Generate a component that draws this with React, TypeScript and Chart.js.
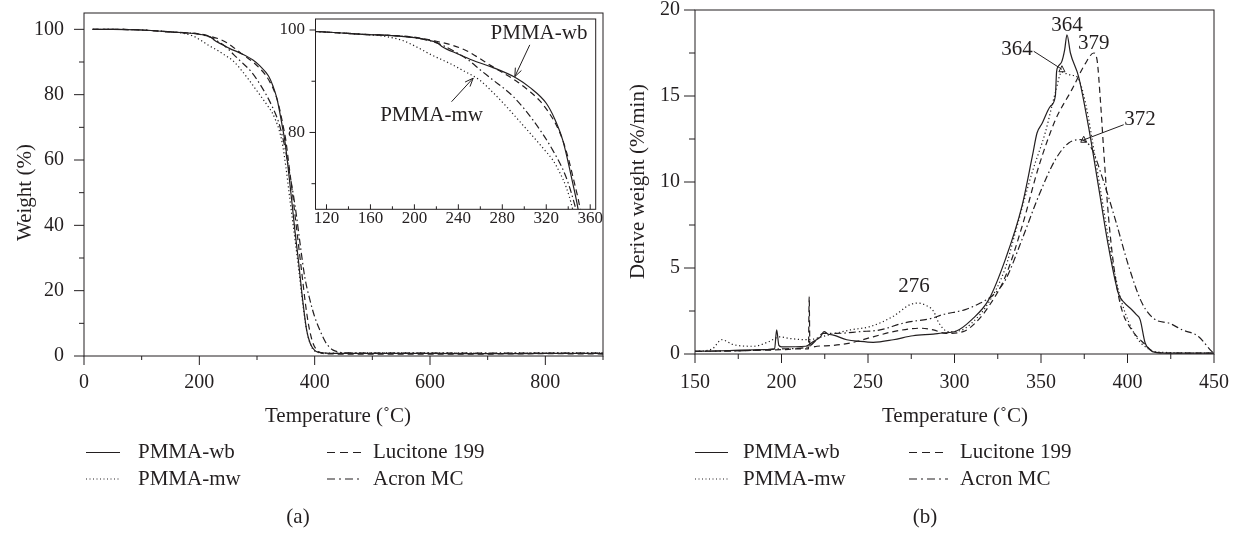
import React, { useEffect, useRef } from "react";
import { Chart, registerables } from "chart.js";

Chart.register(...registerables);

const FONT = '"Liberation Serif", "Times New Roman", Times, serif';
const INK = "#231f20";
const TEXT_SIZE = 21;

// ---------- TGA: weight (%) vs temperature (°C) ----------
const WB_TGA_T = [15, 50, 100, 150, 200, 215, 221, 225, 240, 253, 270, 293, 305, 320, 328, 335, 344, 349, 355, 360, 366, 372, 378, 386, 392, 400, 408, 420, 450, 500, 600, 700, 800, 900];
const WB_TGA_W = [100, 100, 99.8, 99.2, 98.5, 97.9, 97.5, 96.8, 95.3, 94.1, 92.8, 90.6, 88.8, 85.7, 82.5, 78.5, 70.2, 65, 56, 48, 38, 29, 19, 8, 4, 1.7, 1.1, 0.9, 0.8, 0.8, 0.8, 0.7, 0.8, 0.8];

const MW_TGA_T = [15, 50, 100, 150, 172, 190, 202, 215, 232, 245, 259.5, 272, 284, 296, 308, 318, 326, 332, 338, 344, 350, 357, 365, 372, 378, 386, 394, 402, 410, 420, 450, 500, 600, 700, 800, 900];
const MW_TGA_W = [100, 100, 99.8, 99.2, 98.8, 97.9, 96.7, 95.2, 93.5, 92.0, 90.2, 87.7, 85.0, 82.1, 79.2, 76.7, 74.6, 72.3, 69.4, 65, 58, 48, 37, 27, 18, 8, 3, 1.3, 1.0, 0.9, 0.9, 1.0, 1.0, 0.9, 1.0, 1.0];

const LUC_TGA_T = [15, 50, 100, 150, 200, 220, 235, 247, 256, 270, 293, 305, 314, 322, 329, 335, 340, 346, 350, 355, 360, 366, 372, 378, 384, 390, 396, 402, 410, 420, 450, 500, 600, 700, 800, 900];
const LUC_TGA_W = [100, 100, 99.8, 99.2, 98.6, 97.8, 97.0, 96.0, 94.9, 93.0, 90.0, 88.0, 86.2, 84.0, 81.5, 78.5, 75.0, 69.8, 66.0, 59, 52, 43, 34, 25, 16, 9, 4.5, 2.2, 1.0, 0.7, 0.6, 0.6, 0.6, 0.6, 0.7, 0.6];

const ACR_TGA_T = [15, 50, 100, 150, 200, 220, 240, 250, 260, 270, 290, 308, 326, 338, 347, 355, 366, 375, 383, 392, 400, 409, 418, 425, 432, 440, 450, 500, 600, 700, 800, 900];
const ACR_TGA_W = [100, 100, 99.8, 99.2, 98.5, 97.5, 95.4, 94.0, 92.2, 90.5, 87.0, 82.4, 76.5, 71.3, 65, 57.5, 46, 34, 24, 17, 12, 7.9, 4.5, 2.8, 1.8, 1.3, 1.0, 0.9, 0.9, 0.9, 0.9, 0.9];

// ---------- DTG: derivative weight (%/min) vs temperature (°C) ----------
const WB_DTG_T = [150, 170, 190, 196, 197.2, 198.5, 200, 214, 218, 220.3, 222.5, 224.6, 227, 230, 237.7, 245.4, 253, 264.6, 276, 287.8, 292.8, 300.5, 310, 319.8, 329.4, 339, 345, 347.7, 350.6, 355.4, 358.3, 359, 359.8, 362, 363.7, 365, 367, 371.8, 377.5, 383.3, 389, 394.8, 398, 402.5, 405, 407.3, 410.2, 413, 416, 430, 450];
const WB_DTG_D = [0.15, 0.2, 0.25, 0.3, 1.4, 0.5, 0.42, 0.45, 0.7, 0.83, 1.0, 1.3, 1.15, 1.1, 0.83, 0.73, 0.68, 0.83, 1.06, 1.16, 1.22, 1.31, 2.0, 3.16, 5.5, 8.6, 11.5, 12.85, 13.4, 14.4, 15, 16.4, 16.7, 17, 17.7, 18.56, 17.5, 16.1, 13.2, 9.7, 6.25, 3.5, 3.0, 2.57, 2.3, 2.0, 0.64, 0.25, 0.1, 0.05, 0.05];

const MW_DTG_T = [150, 160, 165.4, 172, 183.7, 193, 199, 205, 215.3, 226.9, 239.8, 251.4, 264.6, 274.3, 279, 283, 287.8, 291, 296.6, 303, 310, 319.8, 329.4, 335, 344.7, 352.4, 358.3, 362, 364.6, 368, 371, 375.7, 381.5, 387.2, 392, 396.7, 404.4, 412, 419.8, 450];
const MW_DTG_D = [0.15, 0.3, 0.83, 0.55, 0.45, 0.73, 1.0, 0.9, 0.83, 1.1, 1.4, 1.6, 2.19, 2.87, 2.96, 2.85, 2.5, 1.8, 1.3, 1.35, 1.8, 3.0, 5.0, 7.0, 10.5, 12.85, 15.2, 16.4, 16.3, 16.2, 16.1, 14.6, 11.3, 7.8, 5.0, 3.0, 1.1, 0.3, 0.1, 0.05];

const LUC_DTG_T = [150, 180, 200, 210, 215.6, 216, 216.4, 217.5, 220.5, 230, 239.8, 253, 264.6, 280, 287.8, 295, 305, 312, 319.8, 329.4, 339, 348.7, 358.3, 368, 375.7, 380.5, 382.4, 384.3, 386.2, 389, 392.9, 396.7, 402.5, 409.3, 416, 430, 450];
const LUC_DTG_D = [0.15, 0.2, 0.25, 0.3, 0.3, 3.35, 0.5, 0.4, 0.45, 0.5, 0.64, 1.0, 1.3, 1.5, 1.4, 1.2, 1.3, 1.8, 2.77, 4.5, 7.4, 10.9, 13.6, 15.4, 16.9, 17.5, 17.1, 14.8, 11.9, 8.0, 4.5, 2.58, 1.4, 0.64, 0.1, 0.05, 0.05];

const ACR_DTG_T = [150, 180, 200, 215, 220, 224, 231.7, 245.4, 257, 270.5, 287.8, 292.8, 306.2, 314.9, 322, 329.4, 339, 348.7, 358.3, 366, 372.7, 379.5, 385.3, 393, 400.7, 408.4, 416, 423.8, 431.5, 441, 448.7, 450];
const ACR_DTG_D = [0.15, 0.2, 0.3, 0.4, 0.8, 1.2, 1.2, 1.3, 1.4, 1.8, 2.1, 2.28, 2.58, 2.96, 3.4, 4.3, 6.65, 9.2, 11.3, 12.27, 12.46, 11.9, 10.3, 7.8, 5.1, 2.96, 2.0, 1.8, 1.41, 1.02, 0.15, 0.05];

// ---------- series names, styles, ticks ----------
const SERIES_LABELS = ["PMMA-wb", "PMMA-mw", "Lucitone 199", "Acron MC"];
const LINE_DASH: number[][] = [[], [1.2, 2.6], [6, 4], [7, 3, 1.5, 3]];
const LEGEND_DASH: number[][] = [[], [1, 2.5], [8, 5], [8, 4, 2, 4]];

const TGA_X_MAJOR = [0, 200, 400, 600, 800];
const TGA_X_MINOR = [100, 300, 500, 700, 900];
const TGA_Y_MAJOR = [0, 20, 40, 60, 80, 100];
const TGA_Y_MINOR = [10, 30, 50, 70, 90];
const INSET_X_MAJOR = [120, 160, 200, 240, 280, 320, 360];
const INSET_X_MINOR = [140, 180, 220, 260, 300, 340];
const INSET_Y_MAJOR = [80, 100];
const INSET_Y_MINOR = [70, 90];
const DTG_X_MAJOR = [150, 200, 250, 300, 350, 400, 450];
const DTG_X_MINOR = [175, 225, 275, 325, 375, 425];
const DTG_Y_MAJOR = [0, 5, 10, 15, 20];
const DTG_Y_MINOR = [2.5, 7.5, 12.5, 17.5];

const X_TITLE = "Temperature (˚C)";
const TGA_Y_TITLE = "Weight (%)";
const DTG_Y_TITLE = "Derive weight (%/min)";

// annotations (in data units of their own chart)
const INSET_NOTES = [
  { text: "PMMA-wb", x: 313.4, y: 99.4, fromX: 305, fromY: 97.1, toX: 291.4, toY: 90.9 },
  { text: "PMMA-mw", x: 215.6, y: 83.4, fromX: 233.8, fromY: 86.0, toX: 253.5, toY: 90.6 },
];
const DTG_PEAK_LABELS = [
  { text: "364", x: 365, y: 19.1 },
  { text: "364", x: 336.1, y: 17.7 },
  { text: "379", x: 380.5, y: 18.08 },
  { text: "372", x: 407.2, y: 13.62 },
  { text: "276", x: 276.6, y: 3.93 },
];
const DTG_POINTERS = [
  { fromX: 345.8, fromY: 17.6, toX: 362.1, toY: 16.55 },
  { fromX: 397.8, fromY: 13.33, toX: 374.7, toY: 12.45 },
];

type Rect = { left: number; top: number; right: number; bottom: number };
interface Spec {
  W: number;
  H: number;
  rect: Rect;
  xRange: [number, number];
  yRange: [number, number];
  xMajor: number[];
  xMinor: number[];
  yMajor: number[];
  yMinor: number[];
  xLen: [number, number];
  yLen: [number, number];
  xInside?: boolean;
  tickFont: number;
  xPad: number;
  yPad: number;
  fillArea?: boolean;
  series: [number[], number[]][];
  extra?: (chart: any, ctx: CanvasRenderingContext2D) => void;
}

function drawText(
  ctx: CanvasRenderingContext2D,
  s: string,
  x: number,
  y: number,
  size: number,
  align: CanvasTextAlign = "center",
  rotate = 0
) {
  ctx.save();
  ctx.font = `${size}px ${FONT}`;
  ctx.fillStyle = INK;
  ctx.textAlign = align;
  ctx.textBaseline = "middle";
  ctx.translate(x, y);
  if (rotate) ctx.rotate(rotate);
  ctx.fillText(s, 0, 0);
  ctx.restore();
}

function drawLine(ctx: CanvasRenderingContext2D, x1: number, y1: number, x2: number, y2: number) {
  ctx.beginPath();
  ctx.moveTo(x1, y1);
  ctx.lineTo(x2, y2);
  ctx.stroke();
}

function drawArrow(ctx: CanvasRenderingContext2D, x1: number, y1: number, x2: number, y2: number) {
  ctx.save();
  ctx.strokeStyle = INK;
  ctx.lineWidth = 1;
  ctx.setLineDash([]);
  drawLine(ctx, x1, y1, x2, y2);
  const ang = Math.atan2(y2 - y1, x2 - x1);
  const L = 9;
  const a = 0.38;
  drawLine(ctx, x2, y2, x2 - L * Math.cos(ang - a), y2 - L * Math.sin(ang - a));
  drawLine(ctx, x2, y2, x2 - L * Math.cos(ang + a), y2 - L * Math.sin(ang + a));
  ctx.restore();
}

function drawPointer(ctx: CanvasRenderingContext2D, x1: number, y1: number, x2: number, y2: number) {
  ctx.save();
  ctx.strokeStyle = INK;
  ctx.lineWidth = 1;
  ctx.setLineDash([]);
  drawLine(ctx, x1, y1, x2, y2);
  const s = 6;
  ctx.beginPath();
  ctx.moveTo(x2, y2 - s * 0.6);
  ctx.lineTo(x2 - s / 2, y2 + s * 0.4);
  ctx.lineTo(x2 + s / 2, y2 + s * 0.4);
  ctx.closePath();
  ctx.stroke();
  ctx.restore();
}

function drawLegend(
  ctx: CanvasRenderingContext2D,
  cols: { s0: number; s1: number; tx: number }[],
  rows: number[]
) {
  SERIES_LABELS.forEach((label, i) => {
    const col = cols[i < 2 ? 0 : 1];
    const y = rows[i % 2];
    ctx.save();
    ctx.strokeStyle = INK;
    ctx.lineWidth = 1.2;
    ctx.setLineDash(LEGEND_DASH[i]);
    drawLine(ctx, col.s0, y, col.s1, y);
    ctx.restore();
    drawText(ctx, label, col.tx, y, TEXT_SIZE, "left");
  });
}

function makeChart(canvas: HTMLCanvasElement, spec: Spec) {
  const tickFont = { family: FONT, size: spec.tickFont, lineHeight: 1 };
  const zeroPad = (s: any) => {
    s.paddingLeft = 0;
    s.paddingRight = 0;
    s.paddingTop = 0;
    s.paddingBottom = 0;
  };
  const decor = {
    id: "decor",
    beforeDraw(chart: any) {
      if (!spec.fillArea) return;
      const a = chart.chartArea;
      const ctx = chart.ctx as CanvasRenderingContext2D;
      ctx.save();
      ctx.fillStyle = "#ffffff";
      ctx.fillRect(a.left, a.top, a.right - a.left, a.bottom - a.top);
      ctx.restore();
    },
    afterDraw(chart: any) {
      const ctx = chart.ctx as CanvasRenderingContext2D;
      const a = chart.chartArea;
      const xs = chart.scales.x;
      const ys = chart.scales.y;
      ctx.save();
      ctx.strokeStyle = INK;
      ctx.lineWidth = 1;
      ctx.setLineDash([]);
      ctx.strokeRect(a.left, a.top, a.right - a.left, a.bottom - a.top);
      const xt = (vals: number[], len: number) =>
        vals.forEach((v) => {
          const p = xs.getPixelForValue(v);
          drawLine(ctx, p, a.bottom, p, spec.xInside ? a.bottom - len : a.bottom + len);
        });
      const yt = (vals: number[], len: number) =>
        vals.forEach((v) => {
          const p = ys.getPixelForValue(v);
          drawLine(ctx, a.left - len, p, a.left, p);
        });
      xt(spec.xMajor, spec.xLen[0]);
      xt(spec.xMinor, spec.xLen[1]);
      yt(spec.yMajor, spec.yLen[0]);
      yt(spec.yMinor, spec.yLen[1]);
      ctx.restore();
      if (spec.extra) spec.extra(chart, ctx);
    },
  };
  return new Chart(canvas, {
    type: "line",
    data: {
      datasets: spec.series.map(([t, v], i) => ({
        label: SERIES_LABELS[i],
        data: t.map((x, k) => ({ x, y: v[k] })),
        borderColor: INK,
        borderWidth: 1.2,
        borderDash: LINE_DASH[i],
        pointRadius: 0,
        fill: false,
        cubicInterpolationMode: "monotone" as const,
      })),
    },
    options: {
      animation: false,
      responsive: false,
      events: [],
      layout: { padding: { left: 0, top: spec.rect.top, right: spec.W - spec.rect.right, bottom: 0 } },
      plugins: { legend: { display: false }, tooltip: { enabled: false } },
      scales: {
        x: {
          type: "linear",
          bounds: "data",
          min: spec.xRange[0],
          max: spec.xRange[1],
          grid: { display: false, drawTicks: false },
          border: { display: false },
          ticks: {
            font: tickFont,
            color: INK,
            padding: spec.xPad,
            maxRotation: 0,
            minRotation: 0,
            autoSkip: false,
            callback: (v: any) => String(v),
          },
          afterBuildTicks: (s: any) => {
            s.ticks = spec.xMajor.map((value) => ({ value }));
          },
          afterFit: (s: any) => {
            s.height = spec.H - spec.rect.bottom;
            zeroPad(s);
          },
        },
        y: {
          type: "linear",
          bounds: "data",
          min: spec.yRange[0],
          max: spec.yRange[1],
          grid: { display: false, drawTicks: false },
          border: { display: false },
          ticks: {
            font: tickFont,
            color: INK,
            padding: spec.yPad,
            autoSkip: false,
            callback: (v: any) => String(v),
          },
          afterBuildTicks: (s: any) => {
            s.ticks = spec.yMajor.map((value) => ({ value }));
          },
          afterFit: (s: any) => {
            s.width = spec.rect.left;
            zeroPad(s);
          },
        },
      },
    } as any,
    plugins: [decor],
  });
}

const TGA_SERIES: [number[], number[]][] = [
  [WB_TGA_T, WB_TGA_W],
  [MW_TGA_T, MW_TGA_W],
  [LUC_TGA_T, LUC_TGA_W],
  [ACR_TGA_T, ACR_TGA_W],
];
const DTG_SERIES: [number[], number[]][] = [
  [WB_DTG_T, WB_DTG_D],
  [MW_DTG_T, MW_DTG_D],
  [LUC_DTG_T, LUC_DTG_D],
  [ACR_DTG_T, ACR_DTG_D],
];

export default function App() {
  const leftRef = useRef<HTMLCanvasElement>(null);
  const insetRef = useRef<HTMLCanvasElement>(null);
  const rightRef = useRef<HTMLCanvasElement>(null);

  useEffect(() => {
    const left = makeChart(leftRef.current!, {
      W: 621,
      H: 535,
      rect: { left: 84, top: 13, right: 603, bottom: 356 },
      xRange: [0, 900],
      yRange: [0, 105],
      xMajor: TGA_X_MAJOR,
      xMinor: TGA_X_MINOR,
      yMajor: TGA_Y_MAJOR,
      yMinor: TGA_Y_MINOR,
      xLen: [9, 4],
      yLen: [10, 5],
      tickFont: 20,
      xPad: 17,
      yPad: 20,
      series: TGA_SERIES,
      extra: (chart, ctx) => {
        drawText(ctx, TGA_Y_TITLE, 25, 192.5, TEXT_SIZE, "center", -Math.PI / 2);
        drawText(ctx, X_TITLE, 338, 416.5, TEXT_SIZE);
        drawLegend(
          ctx,
          [
            { s0: 86, s1: 120, tx: 138 },
            { s0: 327, s1: 362, tx: 373 },
          ],
          [452.5, 479]
        );
        drawText(ctx, "(a)", 298, 517.5, TEXT_SIZE);
      },
    });

    const inset = makeChart(insetRef.current!, {
      W: 340,
      H: 232,
      rect: { left: 45.5, top: 11, right: 325.7, bottom: 201.3 },
      xRange: [110, 365],
      yRange: [65, 102.15],
      xMajor: INSET_X_MAJOR,
      xMinor: INSET_X_MINOR,
      yMajor: INSET_Y_MAJOR,
      yMinor: INSET_Y_MINOR,
      xLen: [5, 3],
      yLen: [6, 4],
      xInside: true,
      tickFont: 17,
      xPad: 1,
      yPad: 10.5,
      fillArea: true,
      series: TGA_SERIES,
      extra: (chart, ctx) => {
        const xs = chart.scales.x;
        const ys = chart.scales.y;
        INSET_NOTES.forEach((n) => {
          drawText(ctx, n.text, xs.getPixelForValue(n.x), ys.getPixelForValue(n.y), TEXT_SIZE);
          drawArrow(
            ctx,
            xs.getPixelForValue(n.fromX),
            ys.getPixelForValue(n.fromY),
            xs.getPixelForValue(n.toX),
            ys.getPixelForValue(n.toY)
          );
        });
      },
    });

    const right = makeChart(rightRef.current!, {
      W: 621,
      H: 535,
      rect: { left: 74, top: 10, right: 593, bottom: 354 },
      xRange: [150, 450],
      yRange: [0, 20],
      xMajor: DTG_X_MAJOR,
      xMinor: DTG_X_MINOR,
      yMajor: DTG_Y_MAJOR,
      yMinor: DTG_Y_MINOR,
      xLen: [9, 5],
      yLen: [11, 6],
      tickFont: 20,
      xPad: 19,
      yPad: 15,
      series: DTG_SERIES,
      extra: (chart, ctx) => {
        const xs = chart.scales.x;
        const ys = chart.scales.y;
        DTG_PEAK_LABELS.forEach((l) =>
          drawText(ctx, l.text, xs.getPixelForValue(l.x), ys.getPixelForValue(l.y), TEXT_SIZE)
        );
        DTG_POINTERS.forEach((p) =>
          drawPointer(
            ctx,
            xs.getPixelForValue(p.fromX),
            ys.getPixelForValue(p.fromY),
            xs.getPixelForValue(p.toX),
            ys.getPixelForValue(p.toY)
          )
        );
        drawText(ctx, DTG_Y_TITLE, 17, 181.5, TEXT_SIZE, "center", -Math.PI / 2);
        drawText(ctx, X_TITLE, 334, 416.5, TEXT_SIZE);
        drawLegend(
          ctx,
          [
            { s0: 74, s1: 107, tx: 122 },
            { s0: 288, s1: 327, tx: 339 },
          ],
          [452.5, 479]
        );
        drawText(ctx, "(b)", 304, 517.5, TEXT_SIZE);
      },
    });

    return () => {
      left.destroy();
      inset.destroy();
      right.destroy();
    };
  }, []);

  return (
    <div
      style={{
        position: "fixed",
        left: 0,
        top: 0,
        width: 1242,
        height: 535,
        background: "#ffffff",
        overflow: "hidden",
      }}
    >
      <canvas ref={leftRef} width={621} height={535} style={{ position: "absolute", left: 0, top: 0 }} />
      <canvas ref={insetRef} width={340} height={232} style={{ position: "absolute", left: 270, top: 8 }} />
      <canvas ref={rightRef} width={621} height={535} style={{ position: "absolute", left: 621, top: 0 }} />
    </div>
  );
}
